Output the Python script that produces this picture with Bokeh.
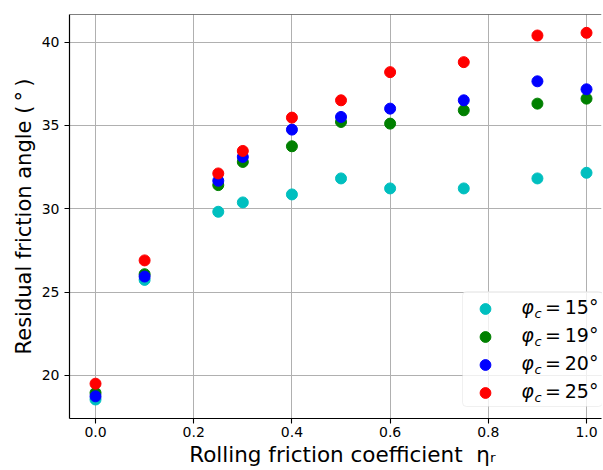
from bokeh.plotting import figure
from bokeh.models import Range1d, FixedTicker, Legend, LegendItem, Label, Span, BoxAnnotation
from bokeh.embed import file_html
from bokeh.resources import INLINE

# ---- data ----
eta_r = [0.0, 0.1, 0.25, 0.3, 0.4, 0.5, 0.6, 0.75, 0.9, 1.0]
phi_c_15 = [18.55, 25.73, 29.82, 30.38, 30.86, 31.82, 31.22, 31.22, 31.82, 32.16]
phi_c_19 = [18.95, 26.07, 31.42, 32.81, 33.75, 35.21, 35.11, 35.91, 36.31, 36.61]
phi_c_20 = [18.74, 25.93, 31.68, 33.11, 34.75, 35.51, 36.01, 36.51, 37.65, 37.17]
phi_c_25 = [19.50, 26.90, 32.12, 33.47, 35.47, 36.51, 38.20, 38.80, 40.40, 40.56]

series_values = [phi_c_15, phi_c_19, phi_c_20, phi_c_25]
series_angles = ["15", "19", "20", "25"]
series_colors = ["#00bfbf", "#008000", "#0000ff", "#ff0000"]

x_ticks = [0.0, 0.2, 0.4, 0.6, 0.8, 1.0]
x_tick_labels = ["0.0", "0.2", "0.4", "0.6", "0.8", "1.0"]
y_ticks = [20, 25, 30, 35, 40]
y_tick_labels = ["20", "25", "30", "35", "40"]

x_label = "\u00a0\u00a0Rolling friction coefficient\u00a0\u00a0\u03b7\u1d63"
y_label = "Residual friction angle (\u2009\u00b0\u2009)"

FONT = "DejaVu Sans"

p = figure(width=602, height=469, output_backend="svg", toolbar_location=None,
           title=None,
           x_range=Range1d(-0.053, 1.0305), y_range=Range1d(17.41, 41.66),
           min_border_left=69, min_border_right=1, min_border_top=14,
           min_border_bottom=50)
p.background_fill_color = "white"
p.border_fill_color = "white"
p.outline_line_color = None

xt = FixedTicker(ticks=x_ticks)
yt = FixedTicker(ticks=y_ticks)
p.xaxis.ticker = xt
p.yaxis.ticker = yt
p.xaxis.major_label_overrides = dict(zip(x_ticks, x_tick_labels))
p.yaxis.major_label_overrides = dict(zip(y_ticks, y_tick_labels))
p.xgrid.ticker = xt
p.ygrid.ticker = yt
for g in (p.xgrid, p.ygrid):
    g.grid_line_color = "#b0b0b0"
    g.grid_line_width = 1

for ax in (p.xaxis[0], p.yaxis[0]):
    ax.axis_line_color = "black"
    ax.axis_line_width = 1.2
    ax.major_tick_line_color = "black"
    ax.major_tick_line_width = 1.1
    ax.major_tick_out = 5
    ax.major_tick_in = 0
    ax.minor_tick_line_color = None
    ax.major_label_text_font = FONT
    ax.major_label_text_font_size = "14px"
    ax.major_label_text_color = "black"
    ax.axis_label_text_font = FONT
    ax.axis_label_text_font_size = "21px"
    ax.axis_label_text_font_style = "normal"
    ax.axis_label_text_color = "black"

p.xaxis.axis_label = x_label
p.xaxis.axis_label_text_font_size = "21.5px"
p.yaxis.axis_label = y_label
p.xaxis.major_label_standoff = 3
p.xaxis.axis_label_standoff = 2
p.yaxis.major_label_standoff = 5
p.yaxis.axis_label_standoff = 3

# top spine
p.add_layout(Span(location=41.66, dimension="width", line_color="black", line_width=1.2))

renderers = []
for vals, col in zip(series_values, series_colors):
    r = p.scatter(eta_r, vals, size=11, marker="circle", fill_color=col, line_color=col)
    renderers.append(r)

# legend: box + markers from Legend, label texts as separate math-like labels
pad, gh, sp = 2, 27, 1
n = len(renderers)
leg_h = 2 * pad + n * gh + (n - 1) * sp
leg_w = 140
leg_left, leg_bottom = 393, 12

box = BoxAnnotation(left=leg_left, right=leg_left + leg_w, bottom=leg_bottom,
                    top=leg_bottom + leg_h, left_units="screen", right_units="screen",
                    bottom_units="screen", top_units="screen",
                    fill_color="white", fill_alpha=0.8, line_color="#cccccc",
                    line_width=1, level="underlay")
try:
    box.border_radius = 4
except Exception:
    pass
p.add_layout(box)

legend = Legend(items=[LegendItem(label="\u00a0", renderers=[r]) for r in renderers],
                location=(leg_left, leg_bottom), padding=pad, spacing=sp, margin=0,
                glyph_width=46, glyph_height=gh, label_width=85, label_height=gh,
                label_standoff=5, label_text_font_size="19px",
                border_line_color=None, background_fill_color=None)
p.add_layout(legend)

for i, ang in enumerate(series_angles):
    center = leg_bottom + leg_h - pad - gh / 2 - i * (gh + sp)
    p.add_layout(Label(x=451.7, y=center, x_units="screen", y_units="screen", text="\u03c6",
                       text_font=FONT, text_font_style="italic", text_font_size="19px",
                       text_baseline="middle", text_align="left", text_color="black"))
    p.add_layout(Label(x=465, y=center - 6, x_units="screen", y_units="screen", text="c",
                       text_font=FONT, text_font_style="italic", text_font_size="13px",
                       text_baseline="middle", text_align="left", text_color="black"))
    p.add_layout(Label(x=475.5, y=center, x_units="screen", y_units="screen",
                       text="=\u2009" + ang + "\u00b0",
                       text_font=FONT, text_font_size="19px",
                       text_baseline="middle", text_align="left", text_color="black"))

open("out.html", "w").write(file_html(p, INLINE))
